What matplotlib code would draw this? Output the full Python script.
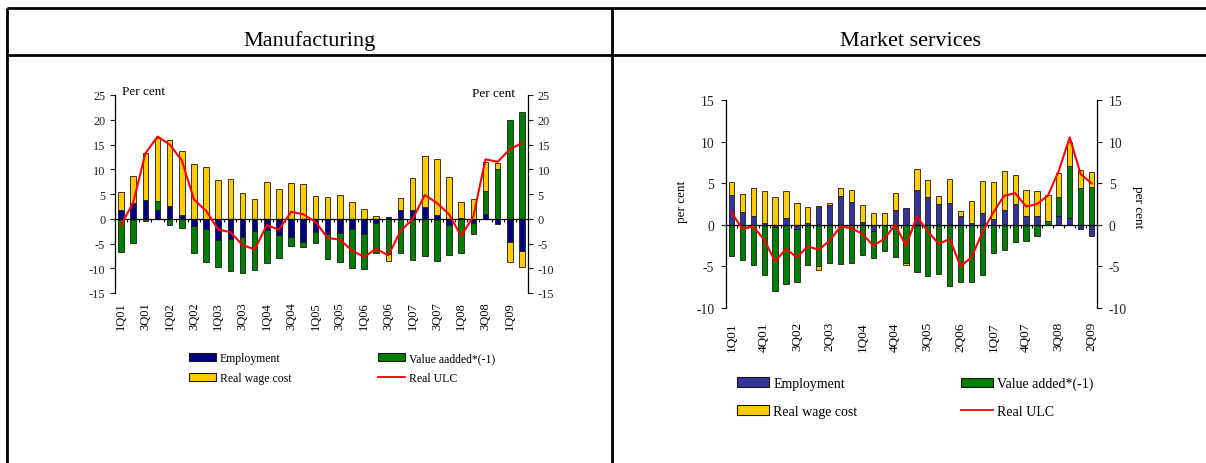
import numpy as np
import matplotlib
matplotlib.use("Agg")
import matplotlib.pyplot as plt
from matplotlib.lines import Line2D
from matplotlib.patches import Patch

plt.rcParams['font.family'] = ['Liberation Serif', 'DejaVu Serif']
plt.rcParams['axes.unicode_minus'] = False

# ---------------- data ----------------
quarters = ["1Q01", "2Q01", "3Q01", "4Q01", "1Q02", "2Q02", "3Q02", "4Q02",
            "1Q03", "2Q03", "3Q03", "4Q03", "1Q04", "2Q04", "3Q04", "4Q04",
            "1Q05", "2Q05", "3Q05", "4Q05", "1Q06", "2Q06", "3Q06", "4Q06",
            "1Q07", "2Q07", "3Q07", "4Q07", "1Q08", "2Q08", "3Q08", "4Q08",
            "1Q09", "2Q09"]

man_ticklabels = ["1Q01", "3Q01", "1Q02", "3Q02", "1Q03", "3Q03", "1Q04", "3Q04",
                  "1Q05", "3Q05", "1Q06", "3Q06", "1Q07", "3Q07", "1Q08", "3Q08", "1Q09"]
ser_ticklabels = ["1Q01", "4Q01", "3Q02", "2Q03", "1Q04", "4Q04", "3Q05", "2Q06",
                  "1Q07", "4Q07", "3Q08", "2Q09"]

man_employment = [1.8, 3.2, 3.8, 1.7, 2.6, 0.8, -1.5, -2.1, -4.2, -4.0, -3.6, -2.4,
                  -2.2, -3.3, -3.7, -4.6, -2.7, -3.0, -2.8, -2.0, -3.0, -0.8, 0.3, 1.8,
                  1.8, 2.3, 0.7, -1.2, 0.2, -0.8, 1.0, -1.0, -4.6, -6.6]
man_value_added = [-6.8, -4.9, -0.4, 1.8, -1.3, -1.8, -5.5, -6.6, -5.5, -6.6, -7.3, -8.0,
                   -6.7, -4.6, -1.8, -1.2, -2.1, -5.2, -6.0, -7.9, -7.1, -6.2, -7.2, -6.9,
                   -8.3, -7.6, -8.6, -6.2, -7.0, -2.3, 4.6, 10.0, 19.9, 21.6]
man_wage = [3.6, 5.4, 9.4, 12.8, 13.4, 12.8, 11.1, 10.4, 7.8, 8.0, 5.3, 3.9,
            7.4, 6.0, 7.2, 7.0, 4.6, 4.3, 4.7, 3.3, 2.0, 0.5, -1.3, 2.3,
            6.5, 10.3, 11.3, 8.4, 3.2, 3.9, 5.8, 1.3, -4.2, -3.2]
man_ulc = [-1.3, 3.3, 13.2, 16.6, 15.0, 11.8, 3.9, 1.6, -2.2, -2.7, -5.3, -6.2,
           -1.3, -2.2, 1.4, 0.9, -0.6, -3.9, -4.2, -6.4, -7.7, -6.1, -7.4, -2.5,
           -0.1, 4.8, 3.2, 0.9, -3.5, 0.5, 12.0, 11.5, 14.0, 15.3]

ser_employment = [3.6, 1.5, 1.1, 0.2, -0.3, 0.8, -0.5, 0.2, 2.3, 2.4, 3.5, 2.8,
                  0.3, -0.7, 0.0, 1.8, 2.0, 4.2, 3.4, 2.5, 2.6, 1.0, 0.2, 1.4,
                  0.7, 1.8, 2.5, 1.0, 1.0, 0.0, 1.0, 0.8, -0.5, -1.4]
ser_value_added = [-3.8, -4.2, -4.8, -6.0, -7.7, -7.1, -6.4, -4.8, -5.0, -4.6, -4.7, -4.6,
                   -3.6, -3.3, -3.1, -3.9, -4.6, -5.7, -6.1, -5.9, -7.4, -6.9, -6.9, -6.0,
                   -3.4, -3.0, -2.1, -2.0, -1.4, 0.5, 2.3, 6.3, 4.4, 4.5]
ser_wage = [1.6, 2.2, 3.3, 3.9, 3.3, 3.3, 2.6, 1.9, -0.4, 0.2, 0.9, 1.4,
            2.1, 1.4, 1.4, 2.0, -0.2, 2.5, 2.0, 1.0, 2.9, 0.7, 2.7, 3.9,
            4.5, 4.7, 3.5, 3.2, 3.1, 3.1, 2.9, 2.9, 2.2, 1.9]
ser_ulc = [1.5, -0.5, -0.2, -1.8, -4.4, -2.9, -3.9, -2.6, -3.0, -1.9, -0.2, -0.4,
           -1.1, -2.5, -1.7, 0.0, -2.5, 1.0, -0.8, -2.3, -1.7, -5.0, -3.9, -0.9,
           1.5, 3.5, 3.8, 2.2, 2.5, 3.5, 6.5, 10.5, 6.1, 5.0]

# ---------------- styles ----------------
W, H = 1206, 464
GREEN = "#007f00"
YELLOW = "#ffcc00"
RED = "#ff0000"


def fx(x):
    return x / W


def fy(y):
    return 1 - y / H


fig = plt.figure(figsize=(W / 100, H / 100), dpi=100)

# table frame
lw = 2.0
for (x0, y0, x1, y1) in [(7, 9, W, 9), (7, 56, W, 56), (7, 9, 7, H), (612, 9, 612, H)]:
    fig.add_artist(Line2D([fx(x0), fx(x1)], [fy(y0), fy(y1)], color="black", lw=lw,
                          solid_capstyle="butt"))

fig.text(fx(310), fy(41), "Manufacturing", ha="center", va="center", fontsize=16)
fig.text(fx(910), fy(41), "Market services", ha="center", va="center", fontsize=16)


def draw_panel(rect, emp, va, wage, ulc, emp_color, ylim, ystep, ticklabels, step,
               tick_fs, xl_fs, xl_pad, ypad, width):
    ax = fig.add_axes(rect)
    n = len(quarters)
    x = np.arange(n)
    pos = np.zeros(n)
    neg = np.zeros(n)
    for vals, c in [(emp, emp_color), (va, GREEN), (wage, YELLOW)]:
        v = np.asarray(vals, dtype=float)
        bottom = np.where(v >= 0, pos, neg)
        ax.bar(x, v, width, bottom=bottom, color=c, edgecolor="#1a1a1a", linewidth=0.6,
               zorder=2)
        pos += np.clip(v, 0, None)
        neg += np.clip(v, None, 0)
    ax.plot(x, ulc, color=RED, lw=1.5, zorder=4)
    ax.set_xlim(-0.5, n - 0.5)
    ax.set_ylim(*ylim)
    ax.set_yticks(np.arange(ylim[0], ylim[1] + 0.1, ystep))
    ax.spines["top"].set_visible(False)
    ax.spines["bottom"].set_position(("data", 0))
    ax.spines["bottom"].set_zorder(3)
    for s in ax.spines.values():
        s.set_linewidth(0.9)
    ax.set_xticks(np.arange(n - 1) + 0.5)
    ax.tick_params(axis="x", length=2.5, width=0.8, labelbottom=False, direction="out")
    ax.tick_params(axis="y", left=True, right=True, labelleft=True, labelright=True,
                   length=3.5, width=0.8, labelsize=tick_fs, pad=ypad, colors="#222222")
    sec = ax.secondary_xaxis(0)
    sec.set_xticks(np.arange(0, n, step), ticklabels, rotation=90, fontsize=xl_fs)
    sec.tick_params(length=0, pad=xl_pad)
    sec.spines["bottom"].set_visible(False)
    return ax


ax1 = draw_panel([fx(115), fy(294), fx(528) - fx(115), fy(96) - fy(294)],
                 man_employment, man_value_added, man_wage, man_ulc, "#000080",
                 (-15, 25), 5, man_ticklabels, 2, 8.8, 9, 6, 3.5, 0.46)
fig.text(fx(122), fy(92), "Per cent", ha="left", va="center", fontsize=9.5)
fig.text(fx(515), fy(94), "Per cent", ha="right", va="center", fontsize=9.5)

ax2 = draw_panel([fx(726), fy(309), fx(1097) - fx(726), fy(101) - fy(309)],
                 ser_employment, ser_value_added, ser_wage, ser_ulc, "#333399",
                 (-10, 15), 5, ser_ticklabels, 3, 9.8, 9.5, 9.5, 5, 0.48)
fig.text(fx(682), fy(202), "per cent", ha="center", va="center", rotation=90, fontsize=9.5)
fig.text(fx(1138), fy(207), "per cent", ha="center", va="center", rotation=-90, fontsize=9.5)


def legend_col(items, x, y, fs, hl, ls):
    handles = []
    labels = []
    for kind, color, label in items:
        if kind == "patch":
            handles.append(Patch(facecolor=color, edgecolor="#1a1a1a", linewidth=0.8))
        else:
            handles.append(Line2D([], [], color=color, lw=1.3))
        labels.append(label)
    leg = fig.legend(handles, labels, loc="upper left", bbox_to_anchor=(fx(x), fy(y)),
                     frameon=False, fontsize=fs, handlelength=hl, handleheight=0.7,
                     handletextpad=0.3, borderpad=0, borderaxespad=0, labelspacing=ls)
    return leg


legend_col([("patch", "#000080", "Employment"), ("patch", YELLOW, "Real wage cost")],
           189, 353, 8.5, 2.3, 0.7)
legend_col([("patch", GREEN, "Value aadded*(-1)"), ("line", RED, "Real ULC")],
           378, 353, 8.5, 2.3, 0.7)
legend_col([("patch", "#333399", "Employment"), ("patch", YELLOW, "Real wage cost")],
           737, 378, 10, 2.3, 1.05)
legend_col([("patch", GREEN, "Value added*(-1)"), ("line", RED, "Real ULC")],
           961, 378, 10, 2.3, 1.05)

fig.savefig("out.png", dpi=100)
